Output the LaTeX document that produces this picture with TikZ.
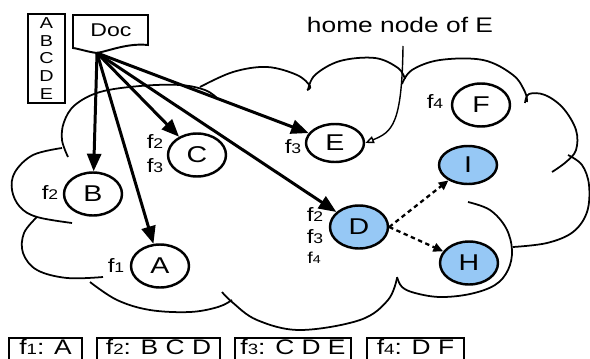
\documentclass[tikz,border=0pt]{standalone}
\usepackage{fontspec}
\setmainfont{Liberation Sans}[FakeStretch=1.25]
\usetikzlibrary{arrows.meta,shapes.geometric}
\definecolor{nodeblue}{RGB}{150,200,245}
\newcommand{\fx}[2][8]{f{\fontsize{#1}{#1}\selectfont #2}}

\begin{document}
\begin{tikzpicture}[
  x=0.02cm, y=-0.02cm,
  elem/.style={ellipse, draw, line width=1.4pt, minimum width=1.16cm, minimum height=0.86cm, inner sep=0pt, font=\fontsize{13}{15}\selectfont},
  hot/.style={elem, fill=nodeblue},
  flab/.style={font=\fontsize{11}{12}\selectfont, inner sep=0pt},
  cloudline/.style={line width=1pt, smooth, tension=0.6},
  docarr/.style={line width=1.7pt, -{Triangle[length=10pt,width=8pt]}},
  linkarr/.style={line width=1.3pt, dash pattern=on 2.5pt off 2pt, -{Triangle[length=5.5pt,width=5pt]}},
  homearr/.style={line width=0.8pt, -{Triangle[open,length=5pt,width=4pt]}},
  keybox/.style={draw, line width=1.1pt, minimum height=0.48cm, inner sep=0pt, text height=8.6pt, text depth=3pt, font=\fontsize{12}{14}\selectfont},
]
\clip (0,0) rectangle (590,358);

% Cloud (one lobe at a time)
\draw[cloudline] plot coordinates {(68,157) (62,140) (64,122) (75,105) (100,92) (140,86) (180,85) (205,90) (217,98)};
\draw[cloudline] plot coordinates {(200,87) (233,72) (267,67) (297,75) (310,86) (307,90)};
\draw[cloudline] plot coordinates {(308,90) (315,75) (340,61) (375,58) (398,68) (405,79)};
\draw[cloudline] plot coordinates {(402,84) (412,70) (440,60) (483,60) (513,75) (525,92) (527,102)};
\draw[cloudline] plot coordinates {(525,103) (529,94) (545,95) (563,108) (576,130) (576,150) (566,162) (552,172)};
\draw[cloudline] plot coordinates {(568,155) (582,165) (589,185) (587,212) (573,232) (547,243) (513,247)};
\draw[cloudline] plot coordinates {(468,202) (490,210) (506,228) (512,250) (508,270) (495,285) (470,294) (440,297) (415,293) (402,287) (397,277)};
\draw[cloudline] plot coordinates {(397,278) (388,300) (360,320) (300,330) (257,320) (232,302) (222,292)};
\draw[cloudline] plot coordinates {(90,282) (117,300) (150,310) (190,312) (218,307) (232,300)};
\draw[cloudline] plot coordinates {(37,217) (24,233) (23,253) (37,270) (67,278) (103,277)};
\draw[cloudline] plot coordinates {(62,148) (33,155) (15,172) (12,190) (20,207) (37,217) (72,223)};

% Key list
\node[draw, line width=1.1pt, minimum width=0.74cm, minimum height=1.78cm, align=center, inner sep=0pt, font=\fontsize{9}{10.2}\selectfont] (keys) at (46.5,58.5) {A\\B\\C\\D\\E};

% Document
\draw[line width=1.1pt] (73,15) -- (148,15) -- (148,45) .. controls (128,43) and (112,50) .. (97,53) .. controls (88,52) and (80,49) .. (73,48) -- cycle;
\node[font=\fontsize{10.5}{12}\selectfont] (doc) at (111,30) {Doc};
\coordinate (docfoot) at (97,53);

% Nodes
\node[elem] (B) at (93,194) {B};
\node[elem] (A) at (160,266) {A};
\node[elem] (C) at (197,155) {C};
\node[elem, minimum height=0.76cm] (E) at (335,143) {E};
\node[elem] (F) at (481,105) {F};
\node[hot] (D) at (359,227) {D};
\node[hot, minimum height=0.76cm] (I) at (468,165) {I};
\node[hot] (H) at (469,263) {H};

% Fragment labels
\node[flab] (fB) at (50,193) {\fx{2}};
\node[flab] (fA) at (116,266) {\fx{1}};
\node[flab] (fC2) at (155,142) {\fx{2}};
\node[flab] (fC3) at (155,166) {\fx{3}};
\node[flab] (fE) at (293,147) {\fx{3}};
\node[flab] (fF) at (435,102) {\fx{4}};
\node[flab] (fD2) at (315,215) {\fx{2}};
\node[flab] (fD3) at (315,237) {\fx{3}};
\node[flab, font=\fontsize{9}{10}\selectfont] (fD4) at (314,258) {\fx[6.5]{4}};

% Arrows from the document
\draw[docarr] (docfoot) -- (B);
\draw[docarr] (docfoot) -- (A);
\draw[docarr] (docfoot) -- (C);
\draw[docarr] (docfoot) -- (E);
\draw[docarr] (docfoot) -- (D);

% Links out of D
\draw[linkarr] (D.east) -- (I);
\draw[linkarr] (D.east) -- (H);

% Home node pointer
\node[font=\fontsize{12}{14}\selectfont, inner sep=0pt] (home) at (400,25) {home node of E};
\coordinate (homefoot) at (403,46);
\draw[homearr] (homefoot) .. controls (402,125) and (392,132) .. (E.east);

% Fragment table
\node[keybox, minimum width=1.46cm] (t1) at (45.5,350) {\fx[8.5]{1}: A};
\node[keybox, minimum width=2.46cm] (t2) at (158.5,350) {\fx[8.5]{2}: B C D};
\node[keybox, minimum width=2.32cm] (t3) at (293,350) {\fx[8.5]{3}: C D E};
\node[keybox, minimum width=1.94cm] (t4) at (415.5,350) {\fx[8.5]{4}: D F};

\end{tikzpicture}
\end{document}
